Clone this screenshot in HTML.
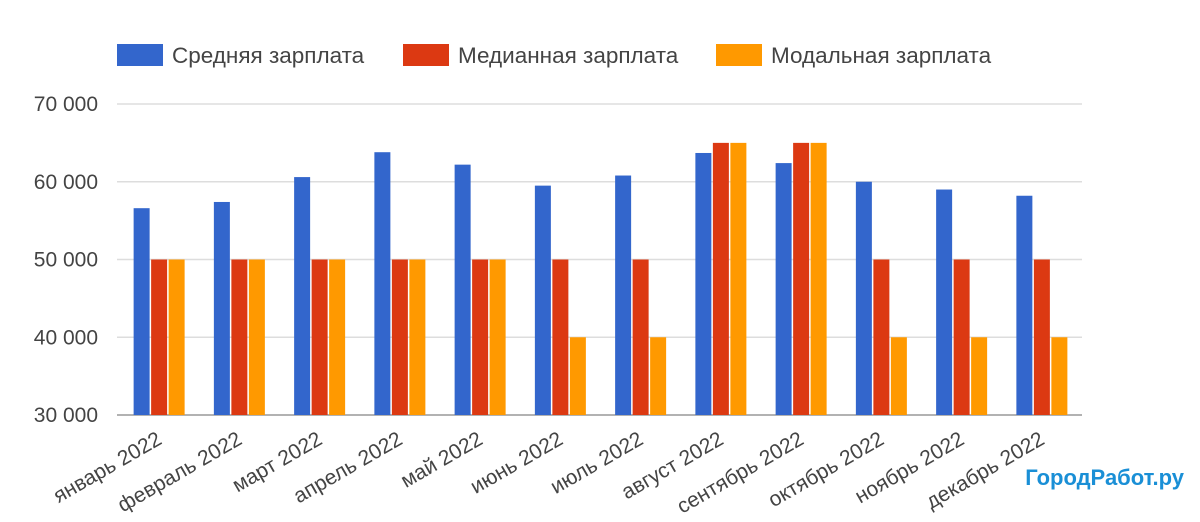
<!DOCTYPE html>
<html><head><meta charset="utf-8">
<style>
body{margin:0;background:#fff;width:1200px;height:517px;overflow:hidden;font-family:"Liberation Sans",Arial,sans-serif;}
svg text{font-family:"Liberation Sans",Arial,sans-serif;}
</style></head>
<body>
<svg id="chart" width="1200" height="517" viewBox="0 0 1200 517">
<g id="legend">
<g><rect x="117" y="44" width="46" height="22" fill="#3366cc"/><text x="172" y="63" font-size="22.5" fill="#444">Средняя зарплата</text></g>
<g><rect x="403" y="44" width="46" height="22" fill="#dc3912"/><text x="458" y="63" font-size="22.5" fill="#444">Медианная зарплата</text></g>
<g><rect x="716" y="44" width="46" height="22" fill="#ff9900"/><text x="771" y="63" font-size="22.5" fill="#444">Модальная зарплата</text></g>
</g>
<g id="grid"></g>
<g id="bars"></g>
<g id="xlabels"></g>
<text x="1184" y="485" text-anchor="end" font-size="22" font-weight="bold" fill="#1a8fd6">ГородРабот.ру</text>
</svg>
<script>
const categories=["январь 2022","февраль 2022","март 2022","апрель 2022","май 2022","июнь 2022","июль 2022","август 2022","сентябрь 2022","октябрь 2022","ноябрь 2022","декабрь 2022"];
const meanSalary=[56600,57400,60600,63800,62200,59500,60800,63700,62400,60000,59000,58200];
const medianSalary=[50000,50000,50000,50000,50000,50000,50000,65000,65000,50000,50000,50000];
const modeSalary=[50000,50000,50000,50000,50000,40000,40000,65000,65000,40000,40000,40000];
const yTicks=[30000,40000,50000,60000,70000];
const yTickLabels=["30 000","40 000","50 000","60 000","70 000"];
const NS="http://www.w3.org/2000/svg";
const plotLeft=119,plotRight=1082,plotTop=104,plotBottom=415,yMin=30000,yMax=70000;
const yScale=v=>plotBottom-(v-yMin)/(yMax-yMin)*(plotBottom-plotTop);
const gw=(plotRight-plotLeft)/categories.length;
const xScale=i=>plotLeft+gw*(i+0.5);
function mk(tag,attrs,parent){const e=document.createElementNS(NS,tag);for(const k in attrs)e.setAttribute(k,attrs[k]);parent.appendChild(e);return e;}
const grid=document.getElementById('grid');
yTicks.forEach((t,i)=>{
  const l=mk('line',{x1:117,x2:plotRight,y1:yScale(t),y2:yScale(t),stroke:i===0?'#999':'#ddd','stroke-width':1.5},grid);
  
  
  const tx=mk('text',{x:98,y:yScale(t)+7,'text-anchor':'end','font-size':21,fill:'#444'},grid);
  tx.textContent=yTickLabels[i];
  
  
});
const bars=document.getElementById('bars');
const xl=document.getElementById('xlabels');
const series=[[meanSalary,'#3366cc','mean'],[medianSalary,'#dc3912','median'],[modeSalary,'#ff9900','mode']];
const bw=16,gap=1.5;
categories.forEach((c,i)=>{
  series.forEach((s,j)=>{
    const v=s[0][i];
    const bx=xScale(i)-(3*bw+2*gap)/2+j*(bw+gap);
    const r=mk('rect',{x:bx,y:yScale(v),width:bw,height:plotBottom-yScale(v),fill:s[1]},bars);
    
    
  });
  const ax=xScale(i)+4,ay=443;
  const t=mk('text',{x:ax,y:ay,'text-anchor':'end','font-size':21,fill:'#444',transform:'rotate(-30 '+ax+' '+ay+')'},xl);
  t.textContent=c;
  
  
});
</script>
</body></html>
